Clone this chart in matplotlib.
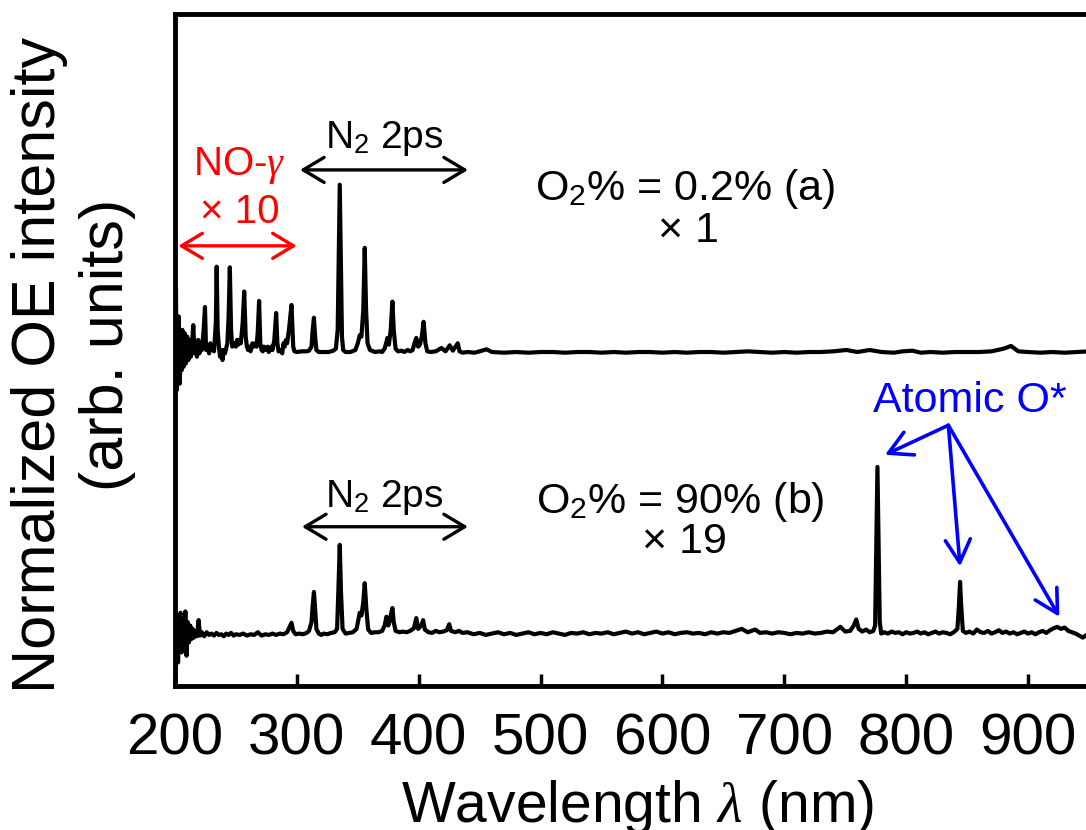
import matplotlib
matplotlib.use("Agg")
import matplotlib.pyplot as plt
from matplotlib import font_manager

# spectrum (a): O2 0.2 %, x1   (wavelength nm, normalized intensity, arb. units)
wl_a = [200.3, 200.8, 201.3, 201.8, 202.5, 203, 204, 204.5, 205.5, 206, 207, 208, 209, 210,
        211, 212, 213, 214, 215, 216, 217, 218, 219, 220, 221, 222, 223.5, 224.6, 225.5, 227,
        228, 229, 230, 231, 232, 233.5, 234.2, 235, 236, 237, 238, 239, 240, 241, 243, 244,
        245, 246, 247, 248.5, 250, 251, 252, 253, 254, 255.5, 256.8, 258, 259, 260, 261, 262,
        263.5, 264.5, 266, 267, 268, 269, 270, 271, 272, 273, 275, 276, 277, 279, 280, 281.5,
        283, 284, 285, 286.5, 288, 289, 290, 291, 292, 293.5, 295.6, 297, 298, 300, 304, 308,
        310, 312, 313, 314, 315, 316, 318, 322, 326, 330, 332, 333.5, 334.5, 335.2, 336, 337,
        338, 340, 344, 348, 350, 351.6, 353, 354.5, 355.7, 356.8, 358, 360, 364, 368, 370,
        372, 373.5, 374.3, 375.5, 377, 378.4, 379.5, 381, 383, 386, 388, 391, 393, 395, 396.5,
        398, 399.5, 401, 402.5, 404, 405.5, 407, 410, 414, 418.6, 422, 425.4, 428, 432,
        433.5, 436, 440, 446, 450, 455.7, 460, 470, 480, 490, 500, 510, 520, 530, 540, 550,
        560, 570, 580, 590, 600, 610, 620, 630, 640, 650, 660, 670, 680, 690, 700, 710, 720,
        730, 740, 751, 760, 770, 780, 790, 797, 805, 812, 820, 830, 840, 850, 860, 870, 880,
        886, 892, 900, 910, 920, 930, 940, 950]
int_a = [4.55, 5.9, 4.4, 5.35, 4.6, 5.5, 4.5, 5.25, 4.7, 5.3, 4.75, 5.25, 4.8, 5.2,
         4.85, 5.15, 4.9, 5.1, 5.37, 4.95, 5.1, 4.9, 5.15, 4.95, 5.1, 5.0, 5.3, 5.64, 5.0, 5.05,
         4.95, 5.1, 5.0, 5.05, 4.98, 5.4, 6.24, 5.3, 5.05, 4.9, 5.0, 4.85, 5.0, 4.95, 5.1, 5.5,
         6.23, 5.3, 5.05, 5.1, 5.05, 5.15, 5.08, 5.15, 5.1, 5.4, 5.87, 5.2, 5.05, 5.0, 5.05, 4.98,
         5.1, 5.05, 5.1, 5.05, 5.3, 5.73, 5.1, 5.0, 4.98, 5.05, 5.0, 5.05, 4.97, 5.05, 5.0, 5.15,
         5.55, 5.1, 4.98, 5.0, 4.95, 5.1, 5.05, 5.15, 5.1, 5.3, 5.67, 5.05, 4.98, 4.97, 4.98, 4.98,
         4.99, 5.05, 5.3, 5.48, 5.2, 5.0, 4.97, 4.97, 4.97, 4.99, 5.02, 5.3, 6.6, 7.46, 6.5, 5.2,
         5.0, 4.97, 4.97, 5.0, 5.1, 5.22, 5.2, 5.6, 6.52, 5.6, 5.1, 5.0, 4.97, 4.98, 4.97,
         5.02, 5.12, 5.18, 5.08, 5.3, 5.72, 5.3, 5.02, 4.98, 4.99, 4.97, 5.0, 4.98, 5.0, 5.1,
         5.18, 5.05, 5.08, 5.2, 5.42, 5.1, 4.98, 4.97, 4.98, 5.03, 4.98, 5.07, 4.99, 5.1,
         4.98, 4.96, 4.97, 4.96, 4.98, 5.01, 4.97, 4.96, 4.97, 4.96, 4.97, 4.97, 4.96, 4.97, 4.97, 4.96,
         4.97, 4.96, 4.97, 4.97, 4.96, 4.97, 4.96, 4.97, 4.97, 4.96, 4.97, 4.98, 4.97, 4.96, 4.97, 4.96, 4.97,
         4.97, 4.98, 5.0, 4.97, 5.0, 4.97, 4.96, 4.98, 4.99, 4.96, 4.97, 4.96, 4.97, 4.97, 4.97, 4.98, 5.02,
         5.06, 4.98, 4.97, 4.96, 4.97, 4.96, 4.97, 4.98]

# spectrum (b): O2 90 %, x19
wl_b = [200.3, 201, 201.8, 202.5, 203.5, 204.5, 205.5, 206.5, 207.5, 208.5, 209.5, 210.5,
        211.5, 212.5, 213.5, 214.5, 215.5, 216.5, 218, 219.4, 220.5, 222, 224, 226, 228, 230,
        232, 234, 236, 238, 240, 242, 244, 246, 248, 250, 253, 256, 259, 262, 265, 268, 271,
        274, 277, 280, 283, 286, 289, 292, 294, 295.6, 297, 299, 302, 305, 308, 310, 312, 313,
        314, 315, 316, 318, 320, 322, 325, 328, 331, 333, 334.2, 335.2, 336.2, 337.5, 340, 343,
        346, 349, 351.6, 353, 354.5, 355.7, 357, 358.5, 361, 364, 367, 370, 372, 373.5, 375,
        376, 377, 378.4, 379.5, 381, 384, 387, 390, 393, 396, 398, 399.5, 401, 402.5, 403.6,
        405, 408, 411, 414, 417, 420, 423, 425, 426.5, 430, 433, 436,
        440, 445, 450, 455, 460, 465, 470, 475, 480, 485, 490, 495, 500, 505, 510, 515, 520,
        525, 530, 535, 540, 545, 550, 555, 560, 565, 570, 575, 580, 585, 590, 595, 600, 605,
        610, 615, 620, 625, 630, 635, 640, 645, 650, 655, 660, 665, 670, 676, 680, 685, 690,
        695, 700, 705, 710, 715, 720, 725, 730, 735, 740, 746, 750, 754, 757, 759, 761, 764,
        767, 770, 773, 774.5, 775.5, 776.4, 777.3, 778.3, 779.5, 782, 785, 788, 791, 794, 797,
        800, 803, 806, 809, 812, 815, 818, 821, 824, 827, 830, 833, 836, 839, 842, 843.3,
        844.2, 845.1, 846.5, 849, 852, 855, 858, 861, 864, 867, 870, 873, 876, 879, 882, 885,
        888, 891, 894, 897, 900, 903, 906, 909, 912, 915, 918, 921, 924, 927, 930, 933, 936,
        939, 942, 945, 948, 950]
int_b = [0.2, 0.6, 1.05, 0.35, 1.0, 1.09, 0.5, 1.0, 0.6, 1.11, 0.45, 0.95,
         0.65, 0.9, 0.7, 0.85, 0.72, 0.82, 0.74, 0.98, 0.75, 0.8, 0.74, 0.8, 0.76, 0.78,
         0.75, 0.79, 0.76, 0.77, 0.74, 0.78, 0.76, 0.79, 0.75, 0.77, 0.76, 0.78, 0.75, 0.77, 0.76, 0.8, 0.75,
         0.77, 0.76, 0.78, 0.76, 0.78, 0.77, 0.8, 0.88, 0.94, 0.82, 0.77, 0.78, 0.77, 0.79, 0.82, 0.95, 1.2,
         1.4, 1.15, 0.85, 0.78, 0.76, 0.78, 0.77, 0.79, 0.8, 0.85, 1.5, 2.1, 1.4, 0.85, 0.78, 0.79,
         0.8, 0.85, 1.09, 1.05, 1.25, 1.53, 1.15, 0.84, 0.79, 0.8, 0.8, 0.82, 0.9, 1.03, 0.9,
         0.95, 1.05, 1.16, 0.95, 0.82, 0.8, 0.81, 0.8, 0.82, 0.86, 1.01, 0.85, 0.88, 0.92, 0.98,
         0.84, 0.8, 0.79, 0.82, 0.8, 0.81, 0.83, 0.92, 0.82, 0.8, 0.82, 0.79,
         0.8, 0.77, 0.79, 0.76, 0.78, 0.8, 0.77, 0.79, 0.76, 0.78, 0.8, 0.77, 0.79, 0.77, 0.8, 0.78, 0.76,
         0.79, 0.78, 0.8, 0.77, 0.79, 0.78, 0.8, 0.77, 0.79, 0.81, 0.78, 0.8, 0.77, 0.79, 0.81, 0.78, 0.8,
         0.77, 0.79, 0.8, 0.78, 0.79, 0.77, 0.8, 0.78, 0.8, 0.79, 0.82, 0.85, 0.8, 0.84, 0.79, 0.8, 0.78,
         0.8, 0.79, 0.77, 0.79, 0.78, 0.8, 0.78, 0.79, 0.81, 0.8, 0.88, 0.81, 0.82, 0.9, 0.99, 0.85, 0.81,
         0.84, 0.8, 0.82, 0.9, 2.2, 3.26, 2.2, 0.95, 0.78, 0.8, 0.78, 0.81, 0.79, 0.8, 0.77,
         0.8, 0.78, 0.79, 0.81, 0.78, 0.8, 0.77, 0.79, 0.81, 0.78, 0.8, 0.79, 0.77, 0.8, 0.85, 1.2,
         1.55, 1.2, 0.82, 0.79, 0.81, 0.78, 0.84, 0.8, 0.79, 0.82, 0.78, 0.8, 0.83, 0.79, 0.81, 0.78,
         0.8, 0.77, 0.79, 0.81, 0.78, 0.8, 0.77, 0.8, 0.82, 0.79, 0.83, 0.86, 0.88, 0.85, 0.87, 0.82, 0.8,
         0.78, 0.75, 0.72, 0.76, 0.74]

xticks = [200, 300, 400, 500, 600, 700, 800, 900]

names = [f.name for f in font_manager.fontManager.ttflist]
sans = 'Liberation Sans' if 'Liberation Sans' in names else 'DejaVu Sans'
plt.rcParams['font.family'] = [sans, 'DejaVu Sans']
plt.rcParams['mathtext.fontset'] = 'custom'
plt.rcParams['mathtext.rm'] = sans
plt.rcParams['mathtext.it'] = 'Liberation Serif:italic'
plt.rcParams['mathtext.bf'] = sans + ':bold'

fig = plt.figure(figsize=(10.86, 8.3), dpi=100)
ax = fig.add_axes([175/1086, 144/830, 914/1086, 672/830])

ax.plot(wl_a, int_a, color='black', lw=3, solid_joinstyle='round')
ax.plot(wl_b, int_b, color='black', lw=3, solid_joinstyle='round')

ax.set_xlim(200, 950)
ax.set_ylim(0, 10)
ax.set_xticks(xticks)
ax.tick_params(axis='x', direction='in', length=9, width=2.5, labelsize=42, pad=19, top=False)
ax.tick_params(axis='y', left=False, right=False, labelleft=False)
for s in ax.spines.values():
    s.set_linewidth(3.5)

fig.text(637/1086, 8/830, r'Wavelength $\lambda$ (nm)', fontsize=41, ha='center', va='baseline')
# y label, two lines set separately
fig.text(40/1086, 1 - 365/830, 'Normalized OE intensity', fontsize=44,
         rotation=90, ha='center', va='center')
fig.text(107/1086, 1 - 345/830, '(arb. units)', fontsize=44,
         rotation=90, ha='center', va='center')

# labels
ax.text(372, 8.0, r'N$_2$ 2ps', fontsize=28, ha='center', va='baseline')
ax.text(372, 2.66, r'N$_2$ 2ps', fontsize=28, ha='center', va='baseline')
ax.text(619, 7.23, r'O$_2$% = 0.2% (a)', fontsize=31, ha='center', va='baseline')
ax.text(621, 6.61, '× 1', fontsize=31, ha='center', va='baseline')
ax.text(615, 2.57, r'O$_2$% = 90% (b)', fontsize=31, ha='center', va='baseline')
ax.text(618, 1.98, '× 19', fontsize=31, ha='center', va='baseline')
ax.text(253, 7.6, r'NO-$\gamma$', fontsize=29, ha='center', va='baseline', color='red')
ax.text(253, 6.89, '× 10', fontsize=29, ha='center', va='baseline', color='red')
ax.text(852, 4.08, 'Atomic O*', fontsize=31, ha='center', va='baseline', color='blue')

dbl = dict(arrowstyle='<->,head_length=0.5,head_width=0.3', lw=2.4, mutation_scale=30,
           shrinkA=0, shrinkB=0)
ax.annotate('', xy=(440.4, 7.68), xytext=(302.6, 7.68), arrowprops=dict(color='black', **dbl))
ax.annotate('', xy=(440.4, 2.37), xytext=(304.2, 2.37), arrowprops=dict(color='black', **dbl))
ax.annotate('', xy=(299.9, 6.55), xytext=(202.7, 6.55), arrowprops=dict(color='red', **dbl))

sgl = dict(arrowstyle='->,head_length=0.55,head_width=0.3', lw=2.6, mutation_scale=30,
           shrinkA=0, shrinkB=0, color='blue')
for tip in [(782.6, 3.44), (844.2, 1.78), (925.7, 1.03)]:
    ax.annotate('', xy=tip, xytext=(834.6, 3.88), arrowprops=sgl)

fig.savefig('out.png', dpi=100)
